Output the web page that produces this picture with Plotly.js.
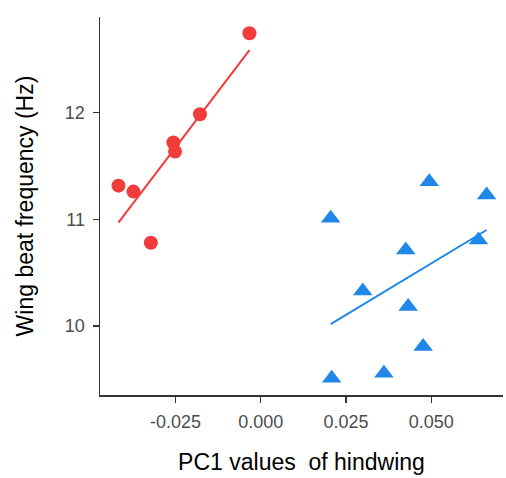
<!DOCTYPE html>
<html><head><meta charset="utf-8">
<script src="https://cdn.plot.ly/plotly-3.0.1.min.js"></script>
<style>body{margin:0;background:#fff}#c{width:506px;height:478px}</style>
</head><body><div id="c"></div>
<script>
var redX = [-0.0033, -0.0178, -0.0256, -0.0251, -0.0417, -0.0373, -0.0322];
var redY = [12.744, 11.985, 11.72, 11.635, 11.316, 11.26, 10.78];
var redFitX = [-0.0417, -0.0033];
var redFitY = [10.969, 12.587];
var blueX = [0.0494, 0.0662, 0.0205, 0.0638, 0.0425, 0.0299, 0.0432, 0.0476, 0.0361, 0.0208];
var blueY = [11.353, 11.229, 11.01, 10.807, 10.713, 10.329, 10.182, 9.808, 9.558, 9.51];
var blueFitX = [0.0205, 0.0662];
var blueFitY = [10.017, 10.90];
var xTicks = [-0.025, 0, 0.025, 0.05];
var xTickText = ["-0.025", "0.000", "0.025", "0.050"];
var yTicks = [10, 11, 12];

var red = "#F23B3B", blue = "#1F87E8";
var data = [
  {x: redFitX, y: redFitY, mode: "lines", line: {color: red, width: 2}, hoverinfo: "skip"},
  {x: blueFitX, y: blueFitY, mode: "lines", line: {color: blue, width: 2}, hoverinfo: "skip"},
  {x: redX, y: redY, mode: "markers", marker: {color: red, size: 14, symbol: "circle"}},
  {x: blueX, y: blueY, mode: "markers", marker: {color: blue, size: 17, symbol: "triangle-up"}}
];
var layout = {
  width: 506, height: 478, showlegend: false,
  paper_bgcolor: "#fff", plot_bgcolor: "#fff",
  margin: {l: 100, r: 3, t: 17, b: 83},
  font: {family: "Liberation Sans, Arial, sans-serif"},
  xaxis: {
    range: [-0.0471, 0.071], tickvals: xTicks, ticktext: xTickText,
    showgrid: false, zeroline: false, showline: true, linecolor: "#333", linewidth: 1.5,
    ticks: "outside", ticklen: 6, tickcolor: "#333", tickwidth: 1.2, ticklabelstandoff: 4,
    tickfont: {size: 18, color: "#4D4D4D"},
    title: {text: "PC1 values  of hindwing", font: {size: 23, color: "#000"}, standoff: 23}
  },
  yaxis: {
    range: [9.353, 12.897], tickvals: yTicks,
    showgrid: false, zeroline: false, showline: true, linecolor: "#333", linewidth: 1.5,
    ticks: "outside", ticklen: 6, tickcolor: "#333", tickwidth: 1.2, ticklabelstandoff: 4,
    tickfont: {size: 18, color: "#4D4D4D"},
    title: {text: "Wing beat frequency (Hz)", font: {size: 23, color: "#000"}, standoff: 25}
  }
};
Plotly.newPlot("c", data, layout, {displayModeBar: false, staticPlot: true});
</script></body></html>
